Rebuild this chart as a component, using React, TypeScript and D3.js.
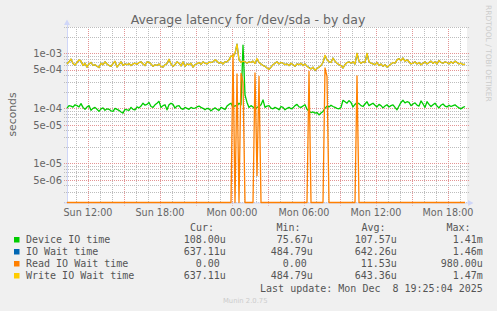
import React from 'react';
import * as d3 from 'd3';

// munin "diskstats latency" day graph, 10 minute samples starting Sun 10:15
const start = new Date(2025, 11, 7, 10, 15);
const end = new Date(2025, 11, 8, 19, 35);
const stepMin = 10;

// values in microseconds
const deviceIO = [
  101, 112, 110, 105, 116, 112, 106, 122, 104, 96,
  106, 112, 92, 100, 104, 96, 88, 98, 102, 92,
  98, 96, 90, 88, 100, 96, 92, 86, 82, 96,
  94, 92, 104, 96, 94, 106, 102, 110, 124, 114,
  118, 128, 108, 104, 116, 124, 134, 104, 112, 116,
  94, 116, 124, 118, 101, 110, 112, 100, 96, 104,
  100, 96, 104, 100, 101, 106, 110, 104, 100, 94,
  100, 98, 90, 96, 102, 96, 92, 104, 100, 95,
  110, 118, 124, 104, 112, 110, 124, 116, 1410, 176,
  128, 104, 112, 106, 96, 104, 108, 116, 142, 104,
  110, 112, 101, 98, 104, 100, 94, 108, 104, 94,
  100, 104, 98, 102, 112, 118, 106, 104, 110, 116,
  96, 88, 84, 86, 82, 84, 76, 82, 88, 100,
  110, 106, 114, 108, 104, 100, 98, 104, 140, 132,
  124, 138, 128, 106, 118, 126, 122, 112, 108, 120,
  132, 112, 118, 124, 114, 106, 118, 112, 102, 110,
  116, 106, 112, 116, 104, 94, 110, 128, 140, 126,
  132, 128, 112, 120, 126, 114, 110, 136, 120, 104,
  132, 118, 108, 116, 124, 110, 102, 114, 120, 110,
  106, 114, 108, 112, 116, 108, 102, 98, 104, 108,
];

const ioWait = [
  640, 700, 780, 650, 610, 680, 750, 720, 600, 660,
  560, 640, 680, 600, 620, 580, 550, 660, 620, 700,
  640, 600, 580, 650, 710, 560, 620, 700, 600, 640,
  620, 650, 600, 640, 660, 630, 680, 700, 640, 600,
  700, 690, 640, 580, 620, 600, 640, 580, 560, 620,
  650, 770, 640, 580, 620, 700, 660, 590, 700, 580,
  640, 620, 660, 560, 620, 650, 680, 630, 700, 660,
  640, 690, 680, 700, 750, 720, 660, 690, 640, 700,
  700, 760, 890, 880, 990, 1460, 760, 690, 720, 700,
  660, 700, 680, 720, 660, 780, 680, 640, 600, 580,
  540, 510, 560, 620, 660, 700, 640, 680, 660, 620,
  640, 600, 660, 620, 580, 640, 620, 660, 600, 640,
  580, 550, 520, 560, 485, 530, 560, 600, 680, 900,
  760, 700, 680, 820, 720, 660, 620, 600, 540, 620,
  680, 700, 660, 700, 640, 990, 720, 660, 700, 680,
  990, 700, 660, 640, 620, 680, 600, 640, 580, 620,
  560, 600, 640, 680, 660, 760, 800, 740, 820, 720,
  760, 700, 640, 660, 700, 640, 680, 620, 660, 700,
  640, 680, 720, 660, 700, 640, 740, 680, 660, 700,
  680, 640, 700, 660, 720, 680, 640, 660, 620, 637,
];

const writeWait = [
  640, 700, 790, 650, 610, 680, 760, 720, 600, 660,
  560, 640, 680, 600, 620, 580, 550, 660, 620, 700,
  640, 600, 580, 650, 720, 560, 620, 700, 600, 640,
  620, 650, 600, 640, 660, 630, 680, 700, 640, 600,
  700, 690, 640, 580, 620, 600, 640, 580, 560, 620,
  650, 780, 640, 580, 620, 700, 660, 590, 700, 580,
  640, 620, 660, 560, 620, 650, 680, 630, 700, 660,
  640, 690, 680, 700, 760, 720, 660, 690, 640, 700,
  700, 760, 900, 860, 1000, 1470, 760, 680, 720, 700,
  660, 700, 680, 720, 650, 800, 680, 640, 600, 580,
  540, 510, 560, 620, 660, 700, 640, 680, 660, 620,
  640, 600, 660, 620, 580, 640, 620, 660, 600, 640,
  580, 540, 520, 560, 490, 530, 560, 600, 680, 920,
  760, 700, 680, 820, 720, 660, 620, 600, 540, 620,
  680, 700, 660, 700, 640, 1000, 720, 660, 700, 680,
  1000, 700, 660, 640, 620, 680, 600, 640, 580, 620,
  560, 600, 640, 680, 660, 760, 800, 740, 820, 720,
  760, 700, 640, 660, 700, 640, 680, 620, 660, 700,
  640, 680, 720, 660, 700, 640, 740, 680, 660, 700,
  680, 640, 700, 660, 720, 680, 640, 660, 620, 637,
];

// read wait is 0 except for these [sample index, value] peaks
const readPeaks: [number, number][] = [
  [83, 980], [85, 420], [87, 430], [88, 300], [94, 440], [95, 6], [96, 380],
  [121, 470], [129, 540], [130, 380], [145, 390],
];
const readWait = deviceIO.map((_, i) => {
  const p = readPeaks.find(d => d[0] === i);
  return p ? p[1] : 0;
});

const names = ["Device IO time", "IO Wait time", "Read IO Wait time", "Write IO Wait time"];
const colors = ["#00CC00", "#0066B3", "#FF8000", "#FFCC00"];
const curCol = ["108.00u", "637.11u", "0.00 ", "637.11u"];
const minCol = ["75.67u", "484.79u", "0.00 ", "484.79u"];
const avgCol = ["107.57u", "642.26u", "11.53u", "643.36u"];
const maxCol = ["1.41m", "1.46m", "980.00u", "1.47m"];
const yLabels = [1e-3, 5e-4, 1e-4, 5e-5, 1e-5, 5e-6];

const sans = "DejaVu Sans, sans-serif";
const mono = "DejaVu Sans Mono, monospace";
const fontColor = "#666";
const axisColor = "#CFD6F8";

export default function App() {
  const left = 67, right = 467, top = 27, bottom = 202.5;
  const x = d3.scaleTime().domain([start, end]).range([left, right]);
  const y = d3.scaleLog().domain([1.95e-6, 3e-3]).range([bottom, top]).clamp(true);
  const tAt = (i: number) => d3.timeMinute.offset(start, i * stepMin);

  const line = d3.line<number>()
    .x((_, i) => x(tAt(i)))
    .y(v => y(Math.max(v * 1e-6, 1e-9)));

  const hours = d3.timeHour.range(start, end);
  const fmt = d3.timeFormat("%a %H:%M");
  const yTicks = y.ticks();
  const lead = (v: number) => Math.round(v / Math.pow(10, Math.floor(Math.log10(v) + 1e-9)));
  const expFmt = (v: number) => v.toExponential(0).replace(/e([+-])(\d)$/, "e$10$2");

  const series = [deviceIO, ioWait, readWait, writeWait];
  const rowY = (k: number) => 231 + 12 * k;

  return (
    <svg width={497} height={311} style={{position: "absolute", left: 0, top: 0}}>
      <rect width={497} height={311} fill="#F0F0F0" />
      <rect x={left} y={top} width={right - left} height={bottom - top + 0.5} fill="#FFFFFF" />

      {/* grid */}
      {hours.map((h, i) => {
        const major = h.getHours() % 3 === 0;
        const xx = Math.round(x(h)) + 0.5;
        return (
          <line key={"v" + i} x1={xx} x2={xx} y1={top} y2={major ? bottom + 3 : bottom}
            stroke={major ? "#E39494" : "#BDBDBD"} strokeDasharray="1,1" />
        );
      })}
      {yTicks.map((v, i) => {
        const major = lead(v) === 1 || lead(v) === 5;
        const yy = Math.round(y(v)) + 0.5;
        return (
          <line key={"h" + i} x1={left - 3} x2={right + 2} y1={yy} y2={yy}
            stroke={major ? "#E39494" : "#BDBDBD"} strokeDasharray="1,1" />
        );
      })}

      {/* axes */}
      <line x1={left + 0.5} x2={left + 0.5} y1={bottom + 1} y2={22} stroke={axisColor} />
      <polygon points="64,25 70,25 67,19.5" fill={axisColor} />
      <line x1={left - 3} x2={right + 2} y1={bottom + 0.5} y2={bottom + 0.5} stroke={axisColor} />
      <polygon points="468,200 468,206 473.5,203" fill={axisColor} />

      {/* data */}
      {series.map((s, k) => (
        <path key={k} d={line(s) || ""} fill="none" stroke={colors[k]} strokeWidth={1.3} strokeLinejoin="round" />
      ))}

      {/* axis labels */}
      {yLabels.map((v, i) => (
        <text key={i} x={62} y={y(v) + 3.6} textAnchor="end" fontFamily={sans} fontSize={10} fill={fontColor}>
          {expFmt(v)}
        </text>
      ))}
      {hours.filter(h => h.getHours() % 6 === 0).map((h, i) => (
        <text key={i} x={x(h)} y={215.5} textAnchor="middle" fontFamily={sans} fontSize={9.6} fill={fontColor}>
          {fmt(h)}
        </text>
      ))}
      <text transform="translate(15.5,114.5) rotate(-90)" textAnchor="middle" fontFamily={sans} fontSize={10.8} fill={fontColor}>
        seconds
      </text>

      <text x={248} y={24} textAnchor="middle" fontFamily={sans} fontSize={12.5} fill={fontColor}>
        Average latency for /dev/sda - by day
      </text>
      <text transform="translate(485.5,5) rotate(90)" fontFamily={sans} fontSize={7.5} fill="#CCCCCC">
        RRDTOOL / TOBI OETIKER
      </text>

      {/* legend */}
      <g fontFamily={mono} fontSize={10} fill="#555">
        <text x={190} y={rowY(0)}>Cur:</text>
        <text x={276.5} y={rowY(0)}>Min:</text>
        <text x={361.5} y={rowY(0)}>Avg:</text>
        <text x={446.5} y={rowY(0)}>Max:</text>
        {names.map((n, k) => (
          <g key={k}>
            <rect x={14} y={rowY(k + 1) - 6} width={5.5} height={5.5} fill={colors[k]} />
            <text x={26} y={rowY(k + 1)}>{n}</text>
            <text x={225.8} y={rowY(k + 1)} textAnchor="end" xmlSpace="preserve" style={{whiteSpace: "pre"}}>{curCol[k]}</text>
            <text x={312.8} y={rowY(k + 1)} textAnchor="end" xmlSpace="preserve" style={{whiteSpace: "pre"}}>{minCol[k]}</text>
            <text x={396.8} y={rowY(k + 1)} textAnchor="end" xmlSpace="preserve" style={{whiteSpace: "pre"}}>{avgCol[k]}</text>
            <text x={482.8} y={rowY(k + 1)} textAnchor="end" xmlSpace="preserve" style={{whiteSpace: "pre"}}>{maxCol[k]}</text>
          </g>
        ))}
        <text x={482.8} y={rowY(5) + 0.5} textAnchor="end" xmlSpace="preserve" style={{whiteSpace: "pre"}}>
          {"Last update: Mon Dec  8 19:25:04 2025"}
        </text>
      </g>
      <text x={223} y={303} fontFamily={sans} fontSize={6.8} fill="#CCCCCC">Munin 2.0.75</text>
    </svg>
  );
}
